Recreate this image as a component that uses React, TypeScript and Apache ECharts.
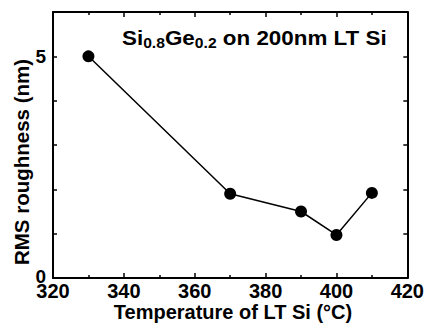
import React, { useEffect, useRef } from "react";
import * as echarts from "echarts";

const temperatures = [330, 370, 390, 400, 410];
const roughness = [5.0, 1.9, 1.5, 0.97, 1.92];
const yLabelsShown = [0, 5];
const xTitle = "Temperature of LT Si (°C)";
const yTitle = "RMS roughness (nm)";

const FONT = "'Liberation Sans', Arial, Helvetica, sans-serif";

export default function App() {
  const ref = useRef<HTMLDivElement>(null);
  useEffect(() => {
    if (!ref.current) return;
    const chart = echarts.init(ref.current, undefined, { renderer: "svg" });
    const axisLine = { show: true, onZero: false, lineStyle: { color: "#000", width: 2 } };
    const xCommon = {
      type: "value" as const,
      min: 320,
      max: 420,
      interval: 20,
      axisLine,
      axisTick: { show: true, inside: true, length: 5, lineStyle: { color: "#000", width: 1.5 } },
      minorTick: { show: true, splitNumber: 2, length: 3, lineStyle: { color: "#000", width: 1.5 } },
      splitLine: { show: false },
    };
    const yCommon = {
      type: "value" as const,
      min: 0,
      max: 6,
      interval: 1,
      axisLine,
      axisTick: { show: true, inside: true, length: 4, lineStyle: { color: "#000", width: 1.5 } },
      splitLine: { show: false },
    };
    const labelFont = { fontFamily: FONT, fontWeight: "bold" as const, fontSize: 19, color: "#000" };
    chart.setOption({
      animation: false,
      backgroundColor: "#fff",
      grid: { left: 53, right: 18, top: 12, bottom: 52, containLabel: false },
      xAxis: [
        {
          ...xCommon,
          position: "bottom",
          axisLabel: { fontFamily: FONT, fontWeight: "bold", fontSize: 20, color: "#000", margin: 3 },
        },
        { ...xCommon, position: "top", axisLabel: { show: false } },
      ],
      yAxis: [
        {
          ...yCommon,
          position: "left",
          axisLabel: {
            margin: 7,
            formatter: (v: number) =>
              yLabelsShown.includes(v) ? (v === 0 ? "{z|" + v + "}" : "{f|" + v + "}") : "",
            rich: {
              z: { ...labelFont, padding: [0, 0, 3, 0] },
              f: { ...labelFont },
            },
          },
        },
        { ...yCommon, position: "right", axisLabel: { show: false } },
      ],
      graphic: [
        {
          type: "text",
          x: 21,
          y: 162,
          rotation: Math.PI / 2,
          style: {
            text: yTitle,
            fontFamily: FONT,
            fontWeight: "bold",
            fontSize: 20.5,
            fill: "#000",
            align: "center",
            verticalAlign: "middle",
          },
        },
        {
          type: "text",
          x: 233,
          y: 312,
          style: {
            text: xTitle,
            fontFamily: FONT,
            fontWeight: "bold",
            fontSize: 20,
            fill: "#000",
            align: "center",
            verticalAlign: "middle",
          },
        },
        {
          type: "text",
          x: 122,
          y: 28,
          scaleX: 1.12,
          style: {
            text: "{m|Si}{s|0.8}{m|Ge}{s|0.2}{m| on 200nm LT Si}",
            fill: "#000",
            rich: {
              m: { fontFamily: FONT, fontWeight: "bold", fontSize: 20, lineHeight: 20, verticalAlign: "top", fill: "#000" },
              s: { fontFamily: FONT, fontWeight: "bold", fontSize: 14, lineHeight: 14, verticalAlign: "top", padding: [8, 0, 0, 0], fill: "#000" },
            },
          },
        },
      ],
      series: [
        {
          type: "line",
          data: temperatures.map((t, i) => [t, roughness[i]]),
          symbol: "circle",
          symbolSize: 12,
          lineStyle: { color: "#000", width: 1.5 },
          itemStyle: { color: "#000" },
        },
      ],
    });
    return () => chart.dispose();
  }, []);
  return (
    <div
      ref={ref}
      style={{ position: "absolute", left: 0, top: 0, width: 427, height: 330 }}
    />
  );
}
